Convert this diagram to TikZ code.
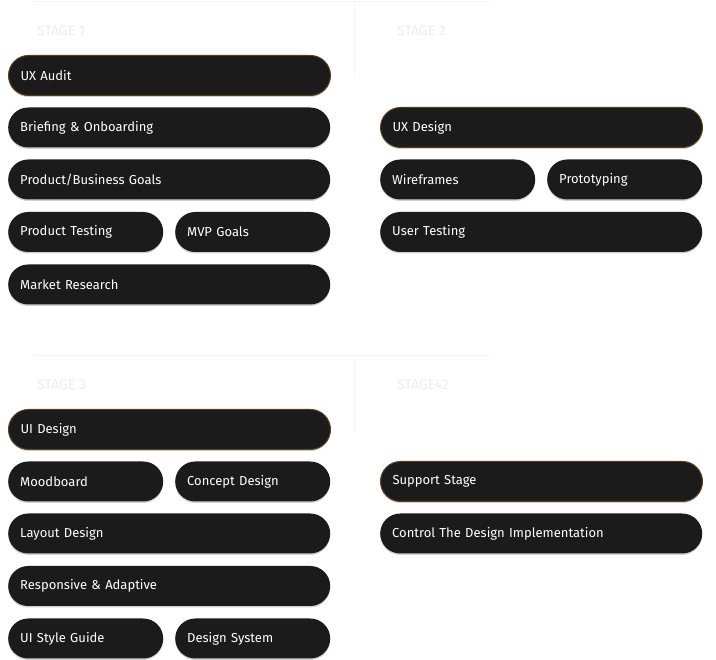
\documentclass[tikz,border=0pt]{standalone}
\usepackage{fontspec}
\newfontfamily\pillfont{Fira Sans}
\usetikzlibrary{shadows}
\definecolor{pillfill}{HTML}{1C1B1B}
\definecolor{pillrim}{HTML}{5A3D1C}
\definecolor{stagegray}{HTML}{EDEDED}
\definecolor{guide}{HTML}{F5F5F5}

\begin{document}
\begin{tikzpicture}[x=1pt,y=-1pt,
  every node/.style={font=\pillfont\fontsize{13}{15}\selectfont},
  pill/.style={fill=pillfill,text=white,rounded corners=20pt,anchor=west,
    minimum height=40pt,inner xsep=12pt,align=left,
    drop shadow={shadow xshift=0pt,shadow yshift=-1.5pt,fill=black!30,opacity=.6}},
  wide/.style={pill,text width=298pt},
  half/.style={pill,text width=131pt},
  head/.style={draw=pillrim,line width=1pt},
  stagelbl/.style={text=stagegray,anchor=west,inner sep=0pt,
    font=\pillfont\fontsize{14}{16}\selectfont}]
  \useasboundingbox (0,0) rectangle (716,660);
  % faint guides
  \coordinate (t1) at (33,1); \coordinate (t2) at (490,1);
  \coordinate (v1) at (354,1); \coordinate (v2) at (354,78);
  \coordinate (b1) at (33,355); \coordinate (b2) at (490,355);
  \coordinate (w1) at (354,355); \coordinate (w2) at (354,432);
  \draw[guide] (t1) -- (t2); \draw[guide] (v1) -- (v2);
  \draw[guide] (b1) -- (b2); \draw[guide] (w1) -- (w2);
  \node[stagelbl] (s1) at (37,31) {STAGE 1};
  \node[stagelbl] (s2) at (397,31) {STAGE 2};
  \node[stagelbl] (s3) at (37,385) {STAGE 3};
  \node[stagelbl] (s4) at (397,385) {STAGE42};
  % stage 1
  \node[wide,head] (audit) at (8,75.5) {UX Audit};
  \node[wide] (brief) at (8,127.5) {Briefing \& Onboarding};
  \node[wide] (goals) at (8,179.5) {Product/Business Goals};
  \node[half] (ptest) at (8,232) {Product Testing};
  \node[half] (mvp) at (175,232) {MVP Goals};
  \node[wide] (market) at (8,284.5) {Market Research};
  % stage 2
  \node[wide,head] (uxd) at (380,127.5) {UX Design};
  \node[half] (wire) at (380,179.5) {Wireframes};
  \node[half] (proto) at (547,179.5) {Prototyping};
  \node[wide] (utest) at (380,232) {User Testing};
  % stage 3
  \node[wide,head] (uid) at (8,429.5) {UI Design};
  \node[half] (mood) at (8,481.5) {Moodboard};
  \node[half] (concept) at (175,481.5) {Concept Design};
  \node[wide] (layout) at (8,533.5) {Layout Design};
  \node[wide] (resp) at (8,586) {Responsive \& Adaptive};
  \node[half] (guidebk) at (8,638.5) {UI Style Guide};
  \node[half] (dsys) at (175,638.5) {Design System};
  % stage 4
  \node[wide,head] (support) at (380,481.5) {Support Stage};
  \node[wide] (control) at (380,533.5) {Control The Design Implementation};
\end{tikzpicture}
\end{document}
